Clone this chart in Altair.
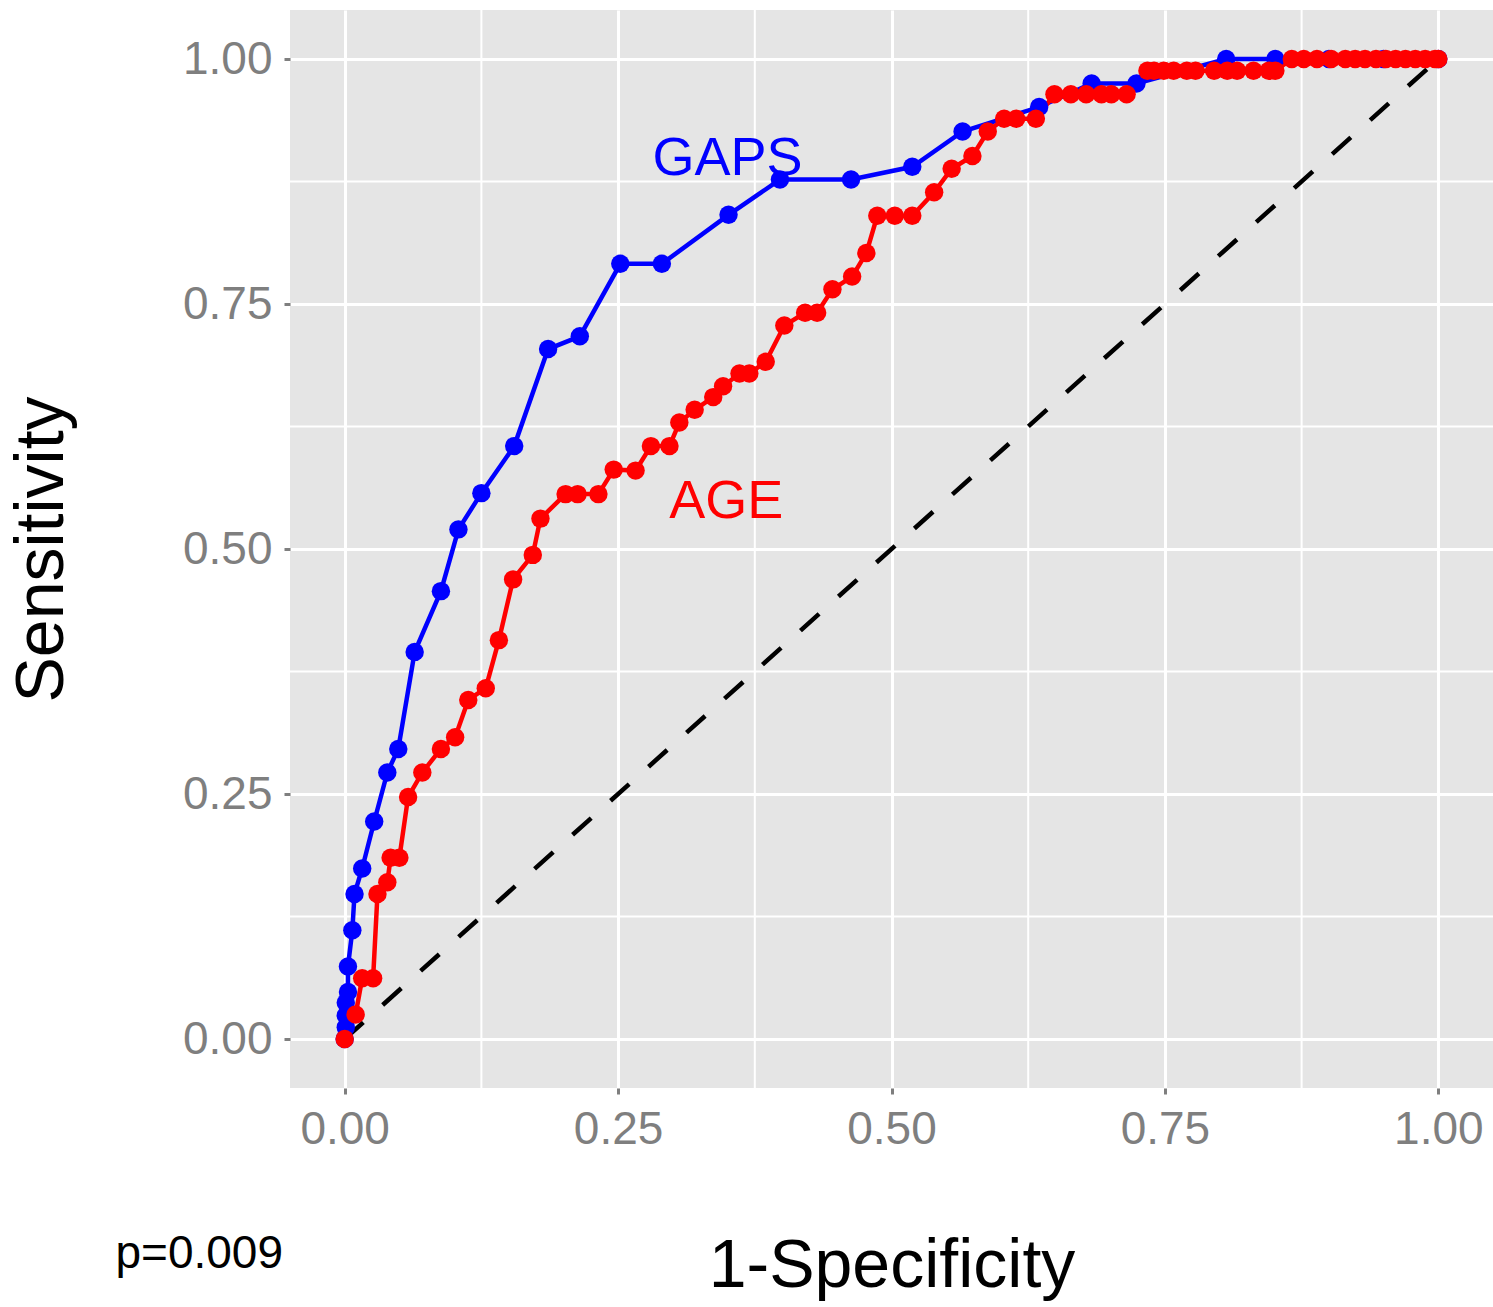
import altair as alt
import pandas as pd

# ROC coordinates (1-specificity, sensitivity) for each predictor
gaps_fpr = [0.000, 0.001, 0.001, 0.001, 0.003, 0.003, 0.007, 0.009, 0.016, 0.027,
            0.039, 0.049, 0.064, 0.088, 0.104, 0.125, 0.155, 0.186, 0.215, 0.252,
            0.290, 0.351, 0.398, 0.463, 0.519, 0.565, 0.635, 0.683, 0.724, 0.806,
            0.851, 0.900, 0.950, 1.000]
gaps_tpr = [0.000, 0.012, 0.024, 0.037, 0.048, 0.074, 0.111, 0.148, 0.174, 0.222,
            0.272, 0.296, 0.395, 0.457, 0.520, 0.557, 0.605, 0.704, 0.717, 0.791,
            0.791, 0.841, 0.877, 0.877, 0.890, 0.926, 0.951, 0.975, 0.975, 1.000,
            1.000, 1.000, 1.000, 1.000]

age_fpr = [0.000, 0.010, 0.016, 0.026, 0.030, 0.039, 0.042, 0.050, 0.058, 0.071,
           0.088, 0.101, 0.113, 0.129, 0.141, 0.154, 0.172, 0.179, 0.202, 0.213,
           0.232, 0.246, 0.266, 0.280, 0.297, 0.306, 0.320, 0.337, 0.346, 0.361,
           0.370, 0.385, 0.402, 0.421, 0.432, 0.446, 0.464, 0.477, 0.487, 0.503,
           0.519, 0.539, 0.555, 0.574, 0.588, 0.603, 0.614, 0.632, 0.649, 0.664,
           0.678, 0.692, 0.701, 0.715, 0.734, 0.740, 0.749, 0.758, 0.770, 0.778,
           0.795, 0.807, 0.816, 0.831, 0.845, 0.851, 0.866, 0.877, 0.889, 0.902,
           0.915, 0.924, 0.933, 0.943, 0.952, 0.961, 0.970, 0.979, 0.988, 0.997,
           1.000]
age_tpr = [0.000, 0.025, 0.062, 0.062, 0.148, 0.160, 0.185, 0.185, 0.247, 0.272,
           0.296, 0.308, 0.346, 0.358, 0.407, 0.469, 0.494, 0.531, 0.556, 0.556,
           0.556, 0.581, 0.580, 0.605, 0.605, 0.629, 0.642, 0.655, 0.666, 0.679,
           0.679, 0.691, 0.728, 0.741, 0.741, 0.765, 0.778, 0.802, 0.840, 0.840,
           0.840, 0.864, 0.888, 0.901, 0.926, 0.939, 0.939, 0.939, 0.964, 0.964,
           0.964, 0.964, 0.964, 0.964, 0.988, 0.988, 0.988, 0.988, 0.988, 0.988,
           0.988, 0.988, 0.988, 0.988, 0.988, 0.988, 1.000, 1.000, 1.000, 1.000,
           1.000, 1.000, 1.000, 1.000, 1.000, 1.000, 1.000, 1.000, 1.000, 1.000,
           1.000]

curve_names = ["GAPS", "AGE"]
curve_colors = ["#0000FF", "#FF0000"]
label_x = [0.350, 0.349]
label_y = [0.898, 0.548]

major_ticks = [0.0, 0.25, 0.5, 0.75, 1.0]
minor_ticks = [0.125, 0.375, 0.625, 0.875]
p_text = "p=0.009"

FONT = "Liberation Sans"
DOMAIN = [-0.05, 1.05]

curves = pd.concat([
    pd.DataFrame({"fpr": gaps_fpr, "tpr": gaps_tpr, "curve": "GAPS",
                  "idx": range(len(gaps_fpr))}),
    pd.DataFrame({"fpr": age_fpr, "tpr": age_tpr, "curve": "AGE",
                  "idx": range(len(age_fpr))}),
])
labels = pd.DataFrame({"fpr": label_x, "tpr": label_y, "curve": curve_names})
diag = pd.DataFrame({"fpr": [0.0, 1.0], "tpr": [0.0, 1.0]})
minor = pd.DataFrame({"v": minor_ticks})

xscale = alt.Scale(domain=DOMAIN, nice=False, zero=False)
yscale = alt.Scale(domain=DOMAIN, nice=False, zero=False)
color = alt.Color("curve:N", scale=alt.Scale(domain=curve_names, range=curve_colors),
                  legend=None)

axis_common = dict(
    values=major_ticks, format=".2f", grid=True, gridColor="white", gridWidth=3,
    domain=False, labelFont=FONT, labelFontSize=46, labelColor="#7F7F7F",
    tickColor="#7F7F7F", tickSize=6, tickWidth=3, titleFont=FONT,
    titleFontSize=68, titleFontWeight="normal", titleColor="black",
)

xaxis = alt.Axis(title="1-Specificity", labelPadding=13, titlePadding=80,
                 **axis_common)
yaxis = alt.Axis(title="Sensitivity", labelPadding=12, titlePadding=106,
                 **axis_common)

vgrid = alt.Chart(minor).mark_rule(color="white", strokeWidth=2).encode(
    x=alt.X("v:Q", scale=xscale, axis=xaxis)
)
hgrid = alt.Chart(minor).mark_rule(color="white", strokeWidth=2).encode(
    y=alt.Y("v:Q", scale=yscale, axis=yaxis)
)

diag_line = alt.Chart(diag).mark_line(
    color="black", strokeWidth=4.5, strokeDash=[25, 26]
).encode(x=alt.X("fpr:Q", scale=xscale), y=alt.Y("tpr:Q", scale=yscale))

lines = alt.Chart(curves).mark_line(strokeWidth=4.5).encode(
    x=alt.X("fpr:Q", scale=xscale), y=alt.Y("tpr:Q", scale=yscale),
    color=color, detail="curve:N", order="idx:Q",
)
points = alt.Chart(curves).mark_circle(size=340, opacity=1).encode(
    x=alt.X("fpr:Q", scale=xscale), y=alt.Y("tpr:Q", scale=yscale), color=color,
)

text = alt.Chart(labels).mark_text(font=FONT, fontSize=54).encode(
    x=alt.X("fpr:Q", scale=xscale), y=alt.Y("tpr:Q", scale=yscale), color=color,
    text="curve:N",
)

pval = alt.Chart(pd.DataFrame({"fpr": [-0.133], "tpr": [-0.219], "t": [p_text]})).mark_text(
    font=FONT, fontSize=46, color="black"
).encode(x=alt.X("fpr:Q", scale=xscale), y=alt.Y("tpr:Q", scale=yscale), text="t:N")

chart = alt.layer(vgrid, hgrid, diag_line, lines, points, text, pval).properties(
    width=1203, height=1078,
    autosize=alt.AutoSizeParams(type="none"),
    padding={"left": 290, "top": 10, "right": 0, "bottom": 219},
    background="white",
).configure_view(fill="#E5E5E5", stroke=None)

chart.save("out.html", embed_options={"renderer": "svg", "actions": False})
